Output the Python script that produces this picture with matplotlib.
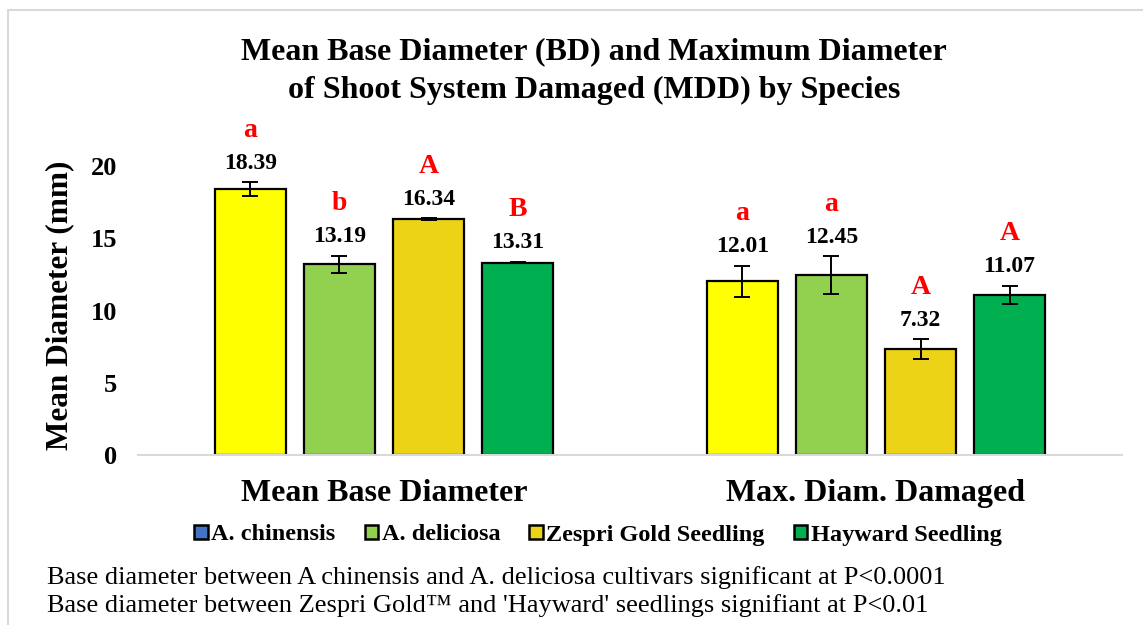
import numpy as np
import matplotlib.pyplot as plt
from matplotlib.patches import Patch, Rectangle

plt.rcParams['font.family'] = ['Liberation Serif', 'DejaVu Serif']

groups = ["Mean Base Diameter", "Max. Diam. Damaged"]
species = ["A. chinensis", "A. deliciosa", "Zespri Gold Seedling", "Hayward Seedling"]
chinensis = [18.39, 12.01]
deliciosa = [13.19, 12.45]
zespri = [16.34, 7.32]
hayward = [13.31, 11.07]
chinensis_err = [0.5, 1.1]
deliciosa_err = [0.6, 1.3]
zespri_err = [0.05, 0.7]
hayward_err = [0.05, 0.65]
letters_chinensis = ["a", "a"]
letters_deliciosa = ["b", "a"]
letters_zespri = ["A", "A"]
letters_hayward = ["B", "A"]
title_lines = ["Mean Base Diameter (BD) and Maximum Diameter",
               "of Shoot System Damaged (MDD) by Species"]
notes = ["Base diameter between A chinensis and A. deliciosa cultivars significant at P<0.0001",
         "Base diameter between Zespri Gold\u2122 and 'Hayward' seedlings signifiant at P<0.01"]

series = [chinensis, deliciosa, zespri, hayward]
errs = [chinensis_err, deliciosa_err, zespri_err, hayward_err]
letters = [letters_chinensis, letters_deliciosa, letters_zespri, letters_hayward]
bar_colors = ["#FFFF00", "#92D050", "#EDD315", "#00B050"]
legend_colors = ["#4472C4", "#92D050", "#EDD315", "#00B050"]

fig = plt.figure(figsize=(11.43, 6.25), dpi=100)
W, H = 1143, 625
ax = fig.add_axes([138 / W, 1 - 455 / H, (1122 - 138) / W, (455 - 166) / H])

# outer frame of the chart area
fig.patches.append(Rectangle((8 / W, -0.1), 1.2, 1 - 10 / H + 0.1, transform=fig.transFigure,
                             fill=False, edgecolor="#D9D9D9", linewidth=1.5))

x = np.arange(len(groups))
width = 0.146
pitch = 0.181

for i, (vals, err, col) in enumerate(zip(series, errs, bar_colors)):
    pos = x + (i - 1.5) * pitch
    ax.bar(pos, vals, width, color=col, edgecolor="black", linewidth=1.6, zorder=2)
    ax.errorbar(pos, vals, yerr=err, fmt="none", ecolor="black", elinewidth=1.4,
                capsize=6, capthick=1.4, zorder=3)
    for j, v in enumerate(vals):
        top = v + err[j]
        ax.annotate(f"{v:.2f}", (pos[j], top), xytext=(0, 19), textcoords="offset pixels",
                    ha="center", va="center", fontsize=17, fontweight="bold", color="black",
                    annotation_clip=False)
        ax.annotate(letters[i][j], (pos[j], top), xytext=(0, 52), textcoords="offset pixels",
                    ha="center", va="center", fontsize=20, fontweight="bold", color="#FF0000",
                    annotation_clip=False)

ax.set_xlim(-0.5, 1.5)
ax.set_ylim(0, 20)
ax.set_yticks([0, 5, 10, 15, 20])
ax.set_xticks(x)
ax.set_xticklabels(groups, fontsize=23, fontweight="bold")
for lab in ax.get_yticklabels():
    lab.set_fontsize(19)
    lab.set_fontweight("bold")
ax.tick_params(axis="both", length=0)
ax.tick_params(axis="y", pad=15)
ax.tick_params(axis="x", pad=17)
for s in ["top", "right", "left"]:
    ax.spines[s].set_visible(False)
ax.spines["bottom"].set_color("#D9D9D9")
ax.spines["bottom"].set_linewidth(1.5)

fig.text(60 / W, 1 - 305 / H, "Mean Diameter (mm)", rotation=90, ha="center", va="center",
         fontsize=22.5, fontweight="bold")
for k, line in enumerate(title_lines):
    fig.text(594 / W, 1 - (52 + 38 * k) / H, line, ha="center", va="center",
             fontsize=23, fontweight="bold")

handles = [Patch(facecolor=c, edgecolor="black", linewidth=1.8) for c in legend_colors]
fig.legend(handles, species, loc="center", bbox_to_anchor=(598 / W, 1 - 535 / H), ncol=4,
           frameon=False, prop={"size": 17.5, "weight": "bold"}, handlelength=0.55,
           handleheight=0.55, handletextpad=0.15, columnspacing=1.2)

for k, note in enumerate(notes):
    fig.text(47 / W, 1 - (578 + 28 * k) / H, note, ha="left", va="center", fontsize=19)

fig.savefig("out.png", dpi=100)
